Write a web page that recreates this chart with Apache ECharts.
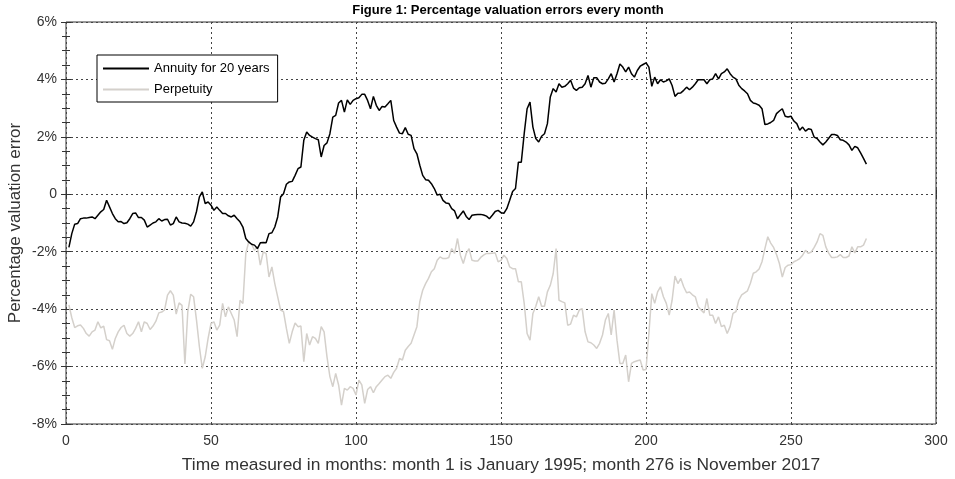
<!DOCTYPE html>
<html>
<head>
<meta charset="utf-8">
<script src="https://cdn.jsdelivr.net/npm/echarts@6/dist/echarts.min.js"></script>
<style>html,body{margin:0;padding:0;background:#fff}#c{width:955px;height:479px}</style>
</head>
<body>
<div id="c"></div>
<script>
var xTicks = [0, 50, 100, 150, 200, 250, 300];
var yTicks = [-8, -6, -4, -2, 0, 2, 4, 6];

var annuity = [
-1.85,-1.37,-1.04,-1.02,-0.85,-0.83,-0.83,-0.81,-0.79,-0.85,
-0.73,-0.61,-0.53,-0.21,-0.44,-0.67,-0.85,-0.96,-0.95,-1.02,
-0.99,-0.85,-0.67,-0.65,-0.81,-0.81,-0.90,-1.14,-1.07,-1.00,
-0.96,-0.85,-0.93,-0.88,-0.87,-1.07,-1.02,-0.79,-0.96,-1.00,
-1.01,-1.04,-1.11,-0.96,-0.60,-0.09,0.08,-0.32,-0.27,-0.38,
-0.56,-0.44,-0.56,-0.67,-0.67,-0.75,-0.79,-0.73,-0.85,-0.96,
-1.14,-1.54,-1.66,-1.74,-1.77,-1.89,-1.69,-1.68,-1.69,-1.37,
-1.34,-1.14,-0.79,-0.09,0.02,0.35,0.43,0.45,0.66,0.89,
0.95,1.88,2.17,2.05,1.99,1.94,1.90,1.30,1.70,1.79,
2.11,2.69,2.75,3.18,3.27,2.86,3.29,3.13,3.27,3.33,
3.36,3.48,3.48,3.27,2.98,3.41,3.10,2.92,3.06,3.04,
3.15,3.27,2.57,2.34,2.13,2.11,2.32,2.09,2.05,1.59,
1.41,1.01,0.66,0.51,0.49,0.37,0.20,-0.03,0.00,-0.21,
-0.30,-0.32,-0.50,-0.58,-0.85,-0.71,-0.58,-0.77,-0.88,-0.73,
-0.71,-0.70,-0.70,-0.72,-0.76,-0.85,-0.73,-0.60,-0.56,-0.64,
-0.66,-0.50,-0.21,0.10,0.20,1.12,1.12,2.11,2.98,3.21,
2.34,1.94,1.82,2.02,2.11,2.46,3.39,3.68,3.56,3.85,
3.73,3.76,3.85,3.97,3.70,3.62,3.71,3.73,3.85,4.14,
3.73,4.06,4.06,3.91,3.85,3.87,4.02,4.20,3.91,4.20,
4.54,4.43,4.26,4.43,4.20,4.08,4.31,4.46,4.52,4.58,
4.43,3.76,4.08,3.85,3.99,3.91,3.95,4.02,3.79,3.41,
3.52,3.53,3.62,3.73,3.64,3.73,3.85,3.99,3.99,3.99,
3.85,3.99,4.02,4.20,4.02,4.20,4.26,4.37,4.20,4.08,
4.02,3.80,3.68,3.60,3.50,3.27,3.18,3.15,3.10,2.98,
2.43,2.45,2.50,2.57,2.81,2.90,2.98,2.72,2.69,2.72,
2.55,2.46,2.23,2.34,2.20,2.28,2.26,1.99,1.94,1.82,
1.72,1.82,1.95,2.08,2.08,2.05,1.90,1.88,1.82,1.72,
1.53,1.67,1.62,1.44,1.25,1.05
];

var perpetuity = [
-3.85,-4.30,-4.64,-4.58,-4.55,-4.67,-4.85,-4.94,-4.79,-4.73,
-4.44,-4.65,-4.59,-5.06,-5.10,-5.40,-5.02,-4.79,-4.64,-4.56,
-4.85,-4.94,-4.85,-4.67,-4.44,-4.79,-4.44,-4.50,-4.71,-4.59,
-4.42,-4.13,-4.10,-4.03,-3.51,-3.36,-3.51,-4.17,-3.78,-3.87,
-5.91,-4.09,-3.48,-3.57,-4.38,-5.31,-6.06,-5.66,-5.02,-4.50,
-4.44,-4.73,-4.56,-3.80,-4.27,-3.92,-4.15,-4.38,-4.96,-3.69,
-3.80,-2.06,-1.66,-1.74,-1.95,-1.83,-2.47,-2.01,-2.06,-2.88,
-2.53,-3.11,-3.57,-4.03,-4.09,-4.67,-5.19,-4.79,-4.48,-4.61,
-4.59,-5.83,-4.85,-5.25,-4.96,-5.02,-5.19,-4.61,-4.79,-5.66,
-6.35,-6.70,-6.24,-6.64,-7.34,-6.76,-6.82,-6.70,-6.76,-6.99,
-6.47,-6.64,-7.28,-6.80,-6.70,-6.91,-6.70,-6.59,-6.47,-6.35,
-6.30,-6.41,-6.20,-6.06,-5.72,-5.77,-5.43,-5.30,-5.19,-4.90,
-4.61,-3.74,-3.34,-3.11,-2.93,-2.70,-2.59,-2.30,-2.18,-2.24,
-2.24,-2.20,-1.89,-2.06,-1.54,-2.12,-2.41,-2.06,-1.89,-2.30,
-2.32,-2.32,-2.20,-2.12,-2.06,-2.06,-2.05,-2.04,-2.35,-2.30,
-2.12,-2.24,-2.53,-2.59,-2.59,-3.05,-3.05,-3.80,-4.85,-5.08,
-4.15,-3.90,-3.57,-3.90,-3.90,-3.40,-3.17,-2.76,-1.89,-3.69,
-3.74,-3.78,-4.56,-4.52,-4.21,-4.27,-4.03,-3.98,-4.79,-5.14,
-5.17,-5.25,-5.37,-5.19,-4.90,-4.38,-4.15,-4.90,-4.03,-5.08,
-5.89,-5.89,-5.60,-6.53,-5.89,-5.83,-5.80,-5.77,-6.12,-6.10,
-4.85,-3.46,-3.80,-3.40,-3.22,-3.57,-3.80,-4.21,-3.69,-2.85,
-3.11,-2.93,-3.22,-3.43,-3.40,-3.50,-3.57,-3.92,-4.03,-4.13,
-3.63,-4.21,-4.21,-4.50,-4.27,-4.61,-4.56,-4.85,-4.61,-4.15,
-4.09,-3.69,-3.50,-3.43,-3.36,-3.10,-2.75,-2.70,-2.60,-2.35,
-1.89,-1.48,-1.70,-1.85,-2.10,-2.41,-2.88,-2.55,-2.47,-2.45,
-2.35,-2.30,-2.24,-2.12,-1.95,-2.06,-2.01,-1.85,-1.66,-1.37,
-1.43,-1.83,-2.05,-2.20,-2.20,-2.18,-2.10,-2.20,-2.20,-2.15,
-1.83,-2.04,-1.83,-1.83,-1.77,-1.54
];

var seriesNames = ['Annuity for 20 years', 'Perpetuity'];

var FONT = 'Liberation Sans, Arial, sans-serif';
var chart = echarts.init(document.getElementById('c'), null, {renderer: 'canvas'});
var gridLine = {show: true, lineStyle: {color: '#444', type: [2, 3], width: 1}};
var option = {
  animation: false,
  backgroundColor: '#fff',
  title: {
    text: 'Figure 1: Percentage valuation errors every month',
    left: 503, top: -1, textAlign: 'center',
    textStyle: {fontFamily: FONT, fontSize: 13, fontWeight: 'bold', color: '#000'}
  },
  legend: {
    orient: 'vertical', left: 97, top: 55,
    data: seriesNames,
    icon: 'rect', itemWidth: 46, itemHeight: 2, itemGap: 8,
    padding: [7, 8, 6, 6],
    borderColor: '#000', borderWidth: 1, backgroundColor: '#fff',
    textStyle: {fontFamily: FONT, fontSize: 13, color: '#000'}
  },
  grid: {left: 66, right: 19, top: 22, bottom: 55, show: true, borderColor: '#333', borderWidth: 1,
    backgroundColor: 'transparent', containLabel: false, outerBoundsMode: 'none'},
  xAxis: [{
    type: 'value', min: xTicks[0], max: xTicks[xTicks.length - 1], interval: 50,
    name: 'Time measured in months: month 1 is January 1995; month 276 is November 2017',
    nameLocation: 'middle', nameGap: 33,
    nameTextStyle: {fontFamily: FONT, fontSize: 17.4, color: '#333'},
    axisLine: {show: false},
    axisTick: {show: true, inside: true, length: 5, lineStyle: {color: '#333'}},
    axisLabel: {fontFamily: FONT, fontSize: 14, color: '#333', margin: 10},
    splitLine: gridLine
  }, {
    type: 'value', position: 'top', min: 0, max: 300, interval: 50,
    axisLine: {show: false},
    axisTick: {show: true, inside: true, length: 5, lineStyle: {color: '#333'}},
    axisLabel: {show: false}, splitLine: {show: false}
  }],
  yAxis: [{
    type: 'value', min: yTicks[0], max: yTicks[yTicks.length - 1], interval: 2,
    name: 'Percentage valuation error',
    nameLocation: 'middle', nameGap: 42, nameMoveOverlap: false,
    nameTextStyle: {fontFamily: FONT, fontSize: 17, color: '#333'},
    axisLine: {show: false},
    axisTick: {show: true, inside: true, length: 5, lineStyle: {color: '#333'}},
    minorTick: {show: true, splitNumber: 4, length: 4, lineStyle: {color: '#333'}},
    axisLabel: {fontFamily: FONT, fontSize: 14, color: '#333', margin: 9,
      formatter: function (v) { return v === 0 ? '0' : v + '%'; }},
    splitLine: gridLine
  }, {
    type: 'value', position: 'right', min: -8, max: 6, interval: 2,
    axisLine: {show: false},
    axisTick: {show: true, inside: true, length: 5, lineStyle: {color: '#333'}},
    minorTick: {show: true, splitNumber: 4, length: 4, lineStyle: {color: '#333'}},
    axisLabel: {show: false}, splitLine: {show: false}
  }],
  series: [{
    name: seriesNames[0], type: 'line', showSymbol: false, symbol: 'none',
    data: annuity.map(function (v, i) { return [i + 1, v]; }),
    lineStyle: {color: '#000', width: 1.5}, itemStyle: {color: '#000'}, z: 3
  }, {
    name: seriesNames[1], type: 'line', showSymbol: false, symbol: 'none',
    data: perpetuity.map(function (v, i) { return [i + 1, v]; }),
    lineStyle: {color: '#d4d0cb', width: 1.5}, itemStyle: {color: '#d4d0cb'}, z: 2
  }]
};
chart.setOption(option);
</script>
</body>
</html>
